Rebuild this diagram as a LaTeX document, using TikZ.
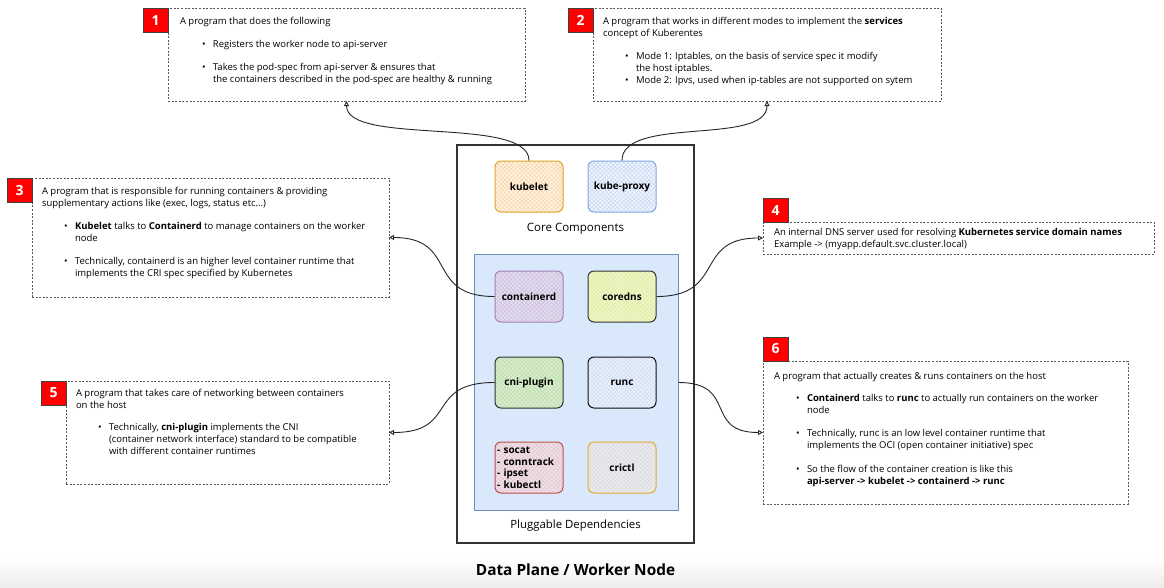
\documentclass[tikz,border=0pt]{standalone}
\usepackage{fontspec}
\setmainfont{Open Sans}
\usetikzlibrary{arrows.meta,patterns.meta,calc}
\definecolor{tagred}{HTML}{FF0000}
\definecolor{plugfill}{HTML}{DAE8FC}
\definecolor{plugdraw}{HTML}{6C8EBF}
\definecolor{kbD}{HTML}{E0A526}\definecolor{kbF}{HTML}{FFF3E4}\definecolor{kbH}{HTML}{F7CD98}
\definecolor{kpD}{HTML}{7EA6E0}\definecolor{kpF}{HTML}{F0F5FD}\definecolor{kpH}{HTML}{BCD0EE}
\definecolor{ctD}{HTML}{A680B8}\definecolor{ctF}{HTML}{E2DDEF}\definecolor{ctH}{HTML}{CDB8DA}
\definecolor{cdD}{HTML}{333333}\definecolor{cdF}{HTML}{EEF5CC}\definecolor{cdH}{HTML}{E2EC92}
\definecolor{cnD}{HTML}{333333}\definecolor{cnF}{HTML}{D9ECD2}\definecolor{cnH}{HTML}{B6DC9E}
\definecolor{rcD}{HTML}{111111}\definecolor{rcF}{HTML}{E8F0FC}\definecolor{rcH}{HTML}{CCD9EF}
\definecolor{tlD}{HTML}{C0504D}\definecolor{tlF}{HTML}{EEDFE8}\definecolor{tlH}{HTML}{E2C3C8}
\definecolor{crD}{HTML}{E3AC2E}\definecolor{crF}{HTML}{EAEAEF}\definecolor{crH}{HTML}{D9D9DD}
\newcommand{\bl}{\hspace*{22pt}\makebox[11pt][l]{\textbullet}}
\newcommand{\cl}{\hspace*{33pt}}
\begin{document}
\begin{tikzpicture}[x=1pt,y=-1pt,
  note/.style={draw=black!65, line width=0.8pt, dash pattern=on 2pt off 1.6pt, inner sep=0, outer sep=0},
  tag/.style={draw=black!75, fill=tagred, text=white, font=\fontsize{14}{14}\selectfont\bfseries, minimum width=25pt, minimum height=24pt, inner sep=0, outer sep=0, line width=0.8pt},
  txt/.style={anchor=base west, inner sep=0, outer sep=0, font=\fontsize{9.5}{12}\selectfont},
  comp/.style={rounded corners=6pt, line width=1pt, minimum width=68pt, minimum height=51pt, inner sep=0, font=\fontsize{10}{11.5}\selectfont\bfseries},
  hatch/.style n args={3}{draw=#1, preaction={fill=#2},
     preaction={pattern={Lines[angle=45,distance=3pt,line width=0.35pt]}, pattern color=#3},
     preaction={pattern={Lines[angle=-45,distance=3pt,line width=0.35pt]}, pattern color=#3}},
  conn/.style={line width=0.9pt, draw=black!85, -{Triangle[open, length=5pt, width=5pt]}}
]
\fill[white] (0,0) rectangle (1164,587);
\useasboundingbox (0,0) rectangle (1164,587);
\shade[top color=white, bottom color=black!7] (0,558) rectangle (1164,587);

% central worker node
\node[draw=black!80, line width=1.1pt, minimum width=237pt, minimum height=398pt, inner sep=0] (outer) at (575.5,344) {};
\node[draw=plugdraw, fill=plugfill, line width=0.9pt, minimum width=204pt, minimum height=256pt, inner sep=0] (plug) at (576,382) {};

\node[comp, hatch={kbD}{kbF}{kbH}] (kubelet) at (529,186.5) {kubelet};
\node[comp, hatch={kpD}{kpF}{kpH}] (kubeproxy) at (622,186.5) {kube-proxy};
\node[inner sep=0, font=\fontsize{11.5}{13}\selectfont] (core) at (575.5,229) {Core Components};

\node[comp, hatch={ctD}{ctF}{ctH}] (containerd) at (529,296.5) {containerd};
\node[comp, hatch={cdD}{cdF}{cdH}] (coredns) at (622,296.5) {coredns};
\node[comp, hatch={cnD}{cnF}{cnH}] (cni) at (529,382.5) {cni-plugin};
\node[comp, hatch={rcD}{rcF}{rcH}] (runc) at (622,382.5) {runc};
\node[comp, hatch={tlD}{tlF}{tlH}, align=left, anchor=center, text width=64pt] (tools) at (529,467.5) {- socat\\- conntrack\\- ipset\\- kubectl};
\node[comp, hatch={crD}{crF}{crH}] (crictl) at (622,467.5) {crictl};
\node[inner sep=0, font=\fontsize{11.4}{13}\selectfont] (plugl) at (575.5,526) {Pluggable Dependencies};
\node[inner sep=0, font=\fontsize{15.4}{17}\selectfont\bfseries] (title) at (575.5,570) {Data Plane / Worker Node};

% note boxes
\node[note, minimum width=357pt, minimum height=93pt] (b1) at (346.5,54.5) {};
\node[note, minimum width=348pt, minimum height=93pt] (b2) at (767,54.5) {};
\node[note, minimum width=357pt, minimum height=119pt] (b3) at (210.5,237.5) {};
\node[note, minimum width=391pt, minimum height=32pt] (b4) at (958.5,238) {};
\node[note, minimum width=323pt, minimum height=103pt] (b5) at (227.5,432.5) {};
\node[note, minimum width=365pt, minimum height=143pt] (b6) at (945.5,432.5) {};

\node[tag, anchor=north east] (t1) at (b1.north west) {1};
\node[tag, anchor=north east] (t2) at (b2.north west) {2};
\node[tag, anchor=north east] (t3) at (b3.north west) {3};
\node[tag, anchor=south west] (t4) at (b4.north west) {4};
\node[tag, anchor=north east] (t5) at (b5.north west) {5};
\node[tag, anchor=south west] (t6) at (b6.north west) {6};

\node[txt] (b1t) at (180,24.5) {\parbox[t]{340pt}{\raggedright
A program that does the following\\[11pt]
\bl Registers the worker node to api-server\\[11pt]
\bl Takes the pod-spec from api-server \& ensures that\\
\cl the containers described in the pod-spec are healthy \& running}};

\node[txt] (b2t) at (603,24.5) {\parbox[t]{340pt}{\raggedright
A program that works in different modes to implement the \textbf{services}\\
concept of Kuberentes\\[11pt]
\bl Mode 1: Iptables, on the basis of service spec it modify\\
\cl the host iptables.\\
\bl Mode 2: Ipvs, used when ip-tables are not supported on sytem}};

\node[txt] (b3t) at (42,194.5) {\parbox[t]{345pt}{\raggedright
A program that is responsible for running containers \& providing\\
supplementary actions like (exec, logs, status etc...)\\[11pt]
\bl \textbf{Kubelet} talks to \textbf{Containerd} to manage containers on the worker\\
\cl node\\[11pt]
\bl Technically, containerd is an higher level container runtime that\\
\cl implements the CRI spec specified by Kubernetes}};

\node[txt] (b4t) at (774,235.5) {\parbox[t]{385pt}{\raggedright
An internal DNS server used for resolving \textbf{Kubernetes service domain names}\\
Example -> (myapp.default.svc.cluster.local)}};

\node[txt] (b5t) at (76,396.5) {\parbox[t]{315pt}{\raggedright
A program that takes care of networking between containers\\
on the host\\[10pt]
\bl Technically, \textbf{cni-plugin} implements the CNI\\
\cl (container network interface) standard to be compatible\\
\cl with different container runtimes}};

\node[txt] (b6t) at (774,379.5) {\parbox[t]{355pt}{\raggedright
A program that actually creates \& runs containers on the host\\[10pt]
\bl \textbf{Containerd} talks to \textbf{runc} to actually run containers on the worker\\
\cl node\\[11pt]
\bl Technically, runc is an low level container runtime that\\
\cl implements the OCI (open container initiative) spec\\[12pt]
\bl So the flow of the container creation is like this\\
\cl \textbf{api-server -> kubelet -> containerd -> runc}}};

% connectors
\draw[conn] (kubelet.north) .. controls +(0,-45) and +(0,45) .. (b1.south);
\draw[conn] (kubeproxy.north) .. controls +(0,-45) and +(0,45) .. (b2.south);
\draw[conn] (containerd.west) .. controls +(-70,0) and +(70,0) .. (b3.east);
\draw[conn] (coredns.east) .. controls +(70,0) and +(-70,0) .. (b4.west);
\draw[conn] (cni.west) .. controls +(-70,0) and +(70,0) .. (b5.east);
\coordinate (rout) at (runc.east -| plug.east);
\draw[conn] (rout) .. controls +(60,0) and +(-60,0) .. (b6.west);
\end{tikzpicture}
\end{document}
